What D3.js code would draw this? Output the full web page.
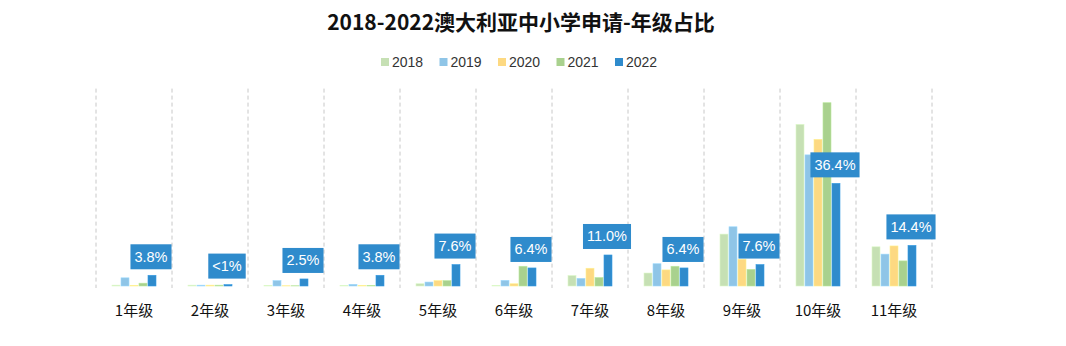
<!DOCTYPE html>
<html><head><meta charset="utf-8">
<script src="https://cdn.jsdelivr.net/npm/d3@7"></script>
<style>body{margin:0;background:#fff}svg{display:block}</style>
</head><body>
<script>
const categories = ["1年级","2年级","3年级","4年级","5年级","6年级","7年级","8年级","9年级","10年级","11年级"];
const years = ["2018","2019","2020","2021","2022"];
const v2018 = [0.3,0.3,0.2,0.2,0.8,0.2,3.7,4.6,18.4,57.3,13.9];
const v2019 = [2.9,0.3,1.9,0.6,1.4,2.0,2.7,7.9,21.0,46.5,11.3];
const v2020 = [0.2,0.3,0.1,0.2,1.9,0.8,6.3,5.7,9.5,52.0,14.2];
const v2021 = [1.0,0.3,0.1,0.2,1.9,7.0,3.0,7.0,5.9,65.0,8.9];
const v2022 = [3.8,0.5,2.5,3.8,7.6,6.4,11.0,6.4,7.6,36.4,14.4];
const labels2022 = ["3.8%","<1%","2.5%","3.8%","7.6%","6.4%","11.0%","6.4%","7.6%","36.4%","14.4%"];
const series = [v2018,v2019,v2020,v2021,v2022];
const colors = ["#c6e0b4","#8fc5e7","#fdd982","#a9d18e","#2f8bcc"];

const W=1066,H=346;
const svg=d3.select("body").append("svg").attr("width",W).attr("height",H);

const x=d3.scaleBand().domain(categories).range([96,932]).padding(0);
const y=d3.scaleLinear().domain([0,70]).range([286,88.6]);
const x1=d3.scaleBand().domain(years).range([0,44]).paddingInner(0.11).paddingOuter(0);

// dashed separators
const bounds=categories.map(c=>x(c)).concat([x.range()[1]]);
svg.append("g").selectAll("line").data(bounds).join("line")
  .attr("x1",d=>d).attr("x2",d=>d).attr("y1",y(70)).attr("y2",288)
  .attr("stroke","#c8c8c8").attr("stroke-width",1).attr("stroke-dasharray","4,3");

// title
svg.append("text").attr("x",521).attr("y",30).attr("text-anchor","middle")
  .attr("font-family","'Noto Sans CJK SC','Noto Sans',sans-serif").attr("font-weight","bold")
  .attr("font-size",21).attr("fill","#111").text("2018-2022澳大利亚中小学申请-年级占比");

// legend
const lg=svg.append("g");
years.forEach((yr,i)=>{
  const gx=381+i*58.5;
  lg.append("rect").attr("x",gx).attr("y",58).attr("width",8).attr("height",8).attr("fill",colors[i]);
  lg.append("text").attr("x",gx+11).attr("y",67).attr("font-family","'Liberation Sans',Arial,sans-serif")
    .attr("font-size",14).attr("fill","#333").text(yr);
});

// bars
const groups=svg.append("g").selectAll("g").data(categories).join("g")
  .attr("transform",c=>`translate(${x(c)+x.bandwidth()/2-22},0)`);
years.forEach((yr,si)=>{
  groups.append("rect")
    .attr("x",x1(yr)).attr("width",x1.bandwidth())
    .attr("y",(c,i)=>y(series[si][i])).attr("height",(c,i)=>y(0)-y(series[si][i]))
    .attr("fill",colors[si]).attr("stroke",d3.color(colors[si]).brighter(0.3)).attr("stroke-width",0.6);
});

// axis labels
const xAxis=d3.axisBottom(x).tickSize(0).tickPadding(0);
const ax=svg.append("g").attr("transform","translate(0,302)").call(xAxis);
ax.select(".domain").remove();
ax.selectAll("text").attr("font-family","'Noto Sans CJK SC',sans-serif").attr("font-size",15).attr("fill","#111").attr("dy","0.95em");

// data labels for 2022
const lblG=svg.append("g");
categories.forEach((c,i)=>{
  const cx=x(c)+x.bandwidth()/2-22+x1("2022")+x1.bandwidth()/2 - 1;
  const top=y(v2022[i]);
  const bottom=Math.min(top-6,280);
  const g=lblG.append("g");
  const r=g.append("rect").attr("fill","#2f8bcc");
  const t=g.append("text").attr("x",cx).attr("y",bottom-7.5).attr("text-anchor","middle")
    .attr("font-family","'Liberation Sans',Arial,sans-serif").attr("font-size",14.5).attr("fill","#fff").text(labels2022[i]);
  const w=t.node().getComputedTextLength()+8;
  r.attr("x",cx-w/2).attr("y",bottom-25).attr("width",w).attr("height",25);
});
</script>
</body></html>
